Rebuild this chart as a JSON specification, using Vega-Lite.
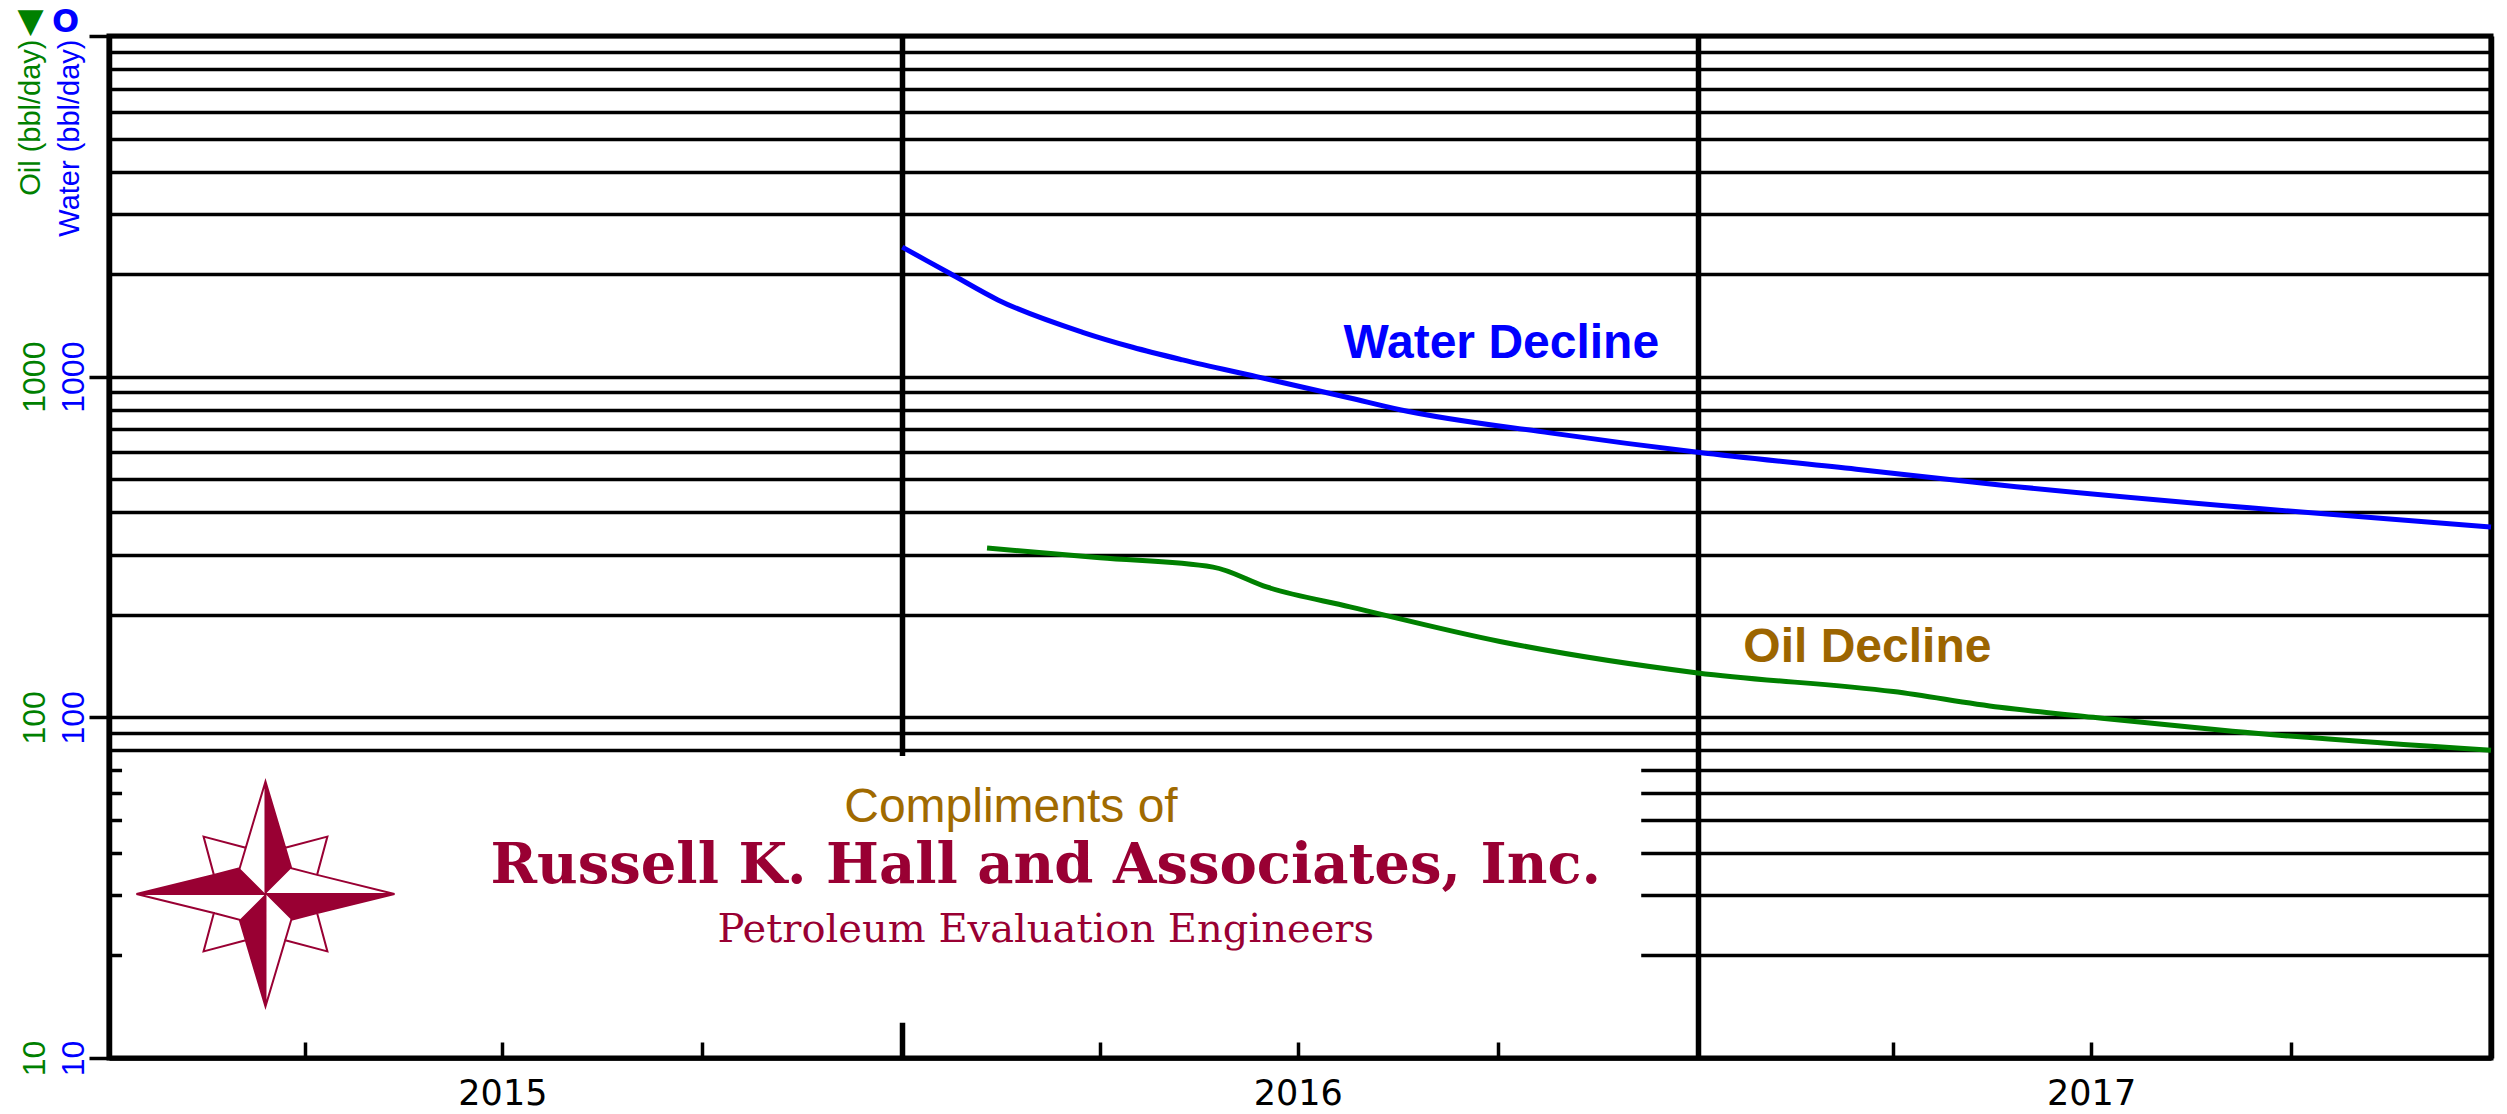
{
  "$schema": "https://vega.github.io/schema/vega-lite/v6.json",
  "width": 2382,
  "height": 1022,
  "autosize": {"type": "none"},
  "padding": {"left": 109, "top": 36, "right": 16, "bottom": 56},
  "background": "white",
  "config": {
    "view": {"stroke": "black", "strokeWidth": 5},
    "font": "Liberation Sans"
  },
  "datasets": {
    "water": [
      {"date": "2016-01-01", "rate": 2400},
      {"date": "2016-01-23", "rate": 2008},
      {"date": "2016-02-14", "rate": 1680},
      {"date": "2016-03-24", "rate": 1350},
      {"date": "2016-04-16", "rate": 1220},
      {"date": "2016-05-09", "rate": 1120},
      {"date": "2016-06-12", "rate": 1000},
      {"date": "2016-07-25", "rate": 866},
      {"date": "2016-08-17", "rate": 800},
      {"date": "2016-10-25", "rate": 684},
      {"date": "2017-01-01", "rate": 600},
      {"date": "2017-03-15", "rate": 535},
      {"date": "2017-05-20", "rate": 481},
      {"date": "2017-09-12", "rate": 412},
      {"date": "2018-01-01", "rate": 362}
    ],
    "oil": [
      {"date": "2016-02-09", "rate": 314},
      {"date": "2016-04-01", "rate": 294},
      {"date": "2016-05-23", "rate": 276},
      {"date": "2016-06-17", "rate": 241},
      {"date": "2016-07-25", "rate": 211},
      {"date": "2016-10-02", "rate": 167},
      {"date": "2017-01-01", "rate": 135},
      {"date": "2017-04-01", "rate": 119},
      {"date": "2017-05-20", "rate": 107},
      {"date": "2017-07-02", "rate": 100},
      {"date": "2017-09-04", "rate": 91},
      {"date": "2018-01-01", "rate": 80}
    ],
    "cover": [{"from": "2015-01-07", "to": "2016-12-06", "low": 12.7, "high": 77}],
    "logo": [{"item": "compass", "date": "2015-03-14", "value": 30.3}],
    "compliments": [{"text": "Compliments of", "date": "2016-02-20", "value": 49.3}],
    "company": [{"text": "Russell K. Hall and Associates, Inc.", "date": "2016-03-07", "value": 32.6}],
    "tagline": [{"text": "Petroleum Evaluation Engineers", "date": "2016-03-07", "value": 21.9}],
    "waterLabel": [{"text": "Water Decline", "date": "2016-07-22", "value": 1134}],
    "oilLabel": [{"text": "Oil Decline", "date": "2017-01-22", "value": 145}]
  },
  "resolve": {"axis": {"x": "independent", "y": "independent"}},
  "layer": [
    {
      "data": {"name": "water"},
      "mark": {"type": "line", "color": "#0000ff", "strokeWidth": 5, "interpolate": "monotone"},
      "encoding": {
        "x": {
          "field": "date", "type": "temporal",
          "scale": {"type": "utc", "nice": false, "domain": [{"year": 2015, "month": 1, "date": 1, "utc": true}, {"year": 2018, "month": 1, "date": 1, "utc": true}]},
          "axis": {
            "orient": "bottom",
            "values": [
              {"year": 2015, "month": 1, "date": 1, "utc": true},
              {"year": 2015, "month": 4, "date": 1, "utc": true},
              {"year": 2015, "month": 7, "date": 1, "utc": true},
              {"year": 2015, "month": 10, "date": 1, "utc": true},
              {"year": 2016, "month": 1, "date": 1, "utc": true},
              {"year": 2016, "month": 4, "date": 1, "utc": true},
              {"year": 2016, "month": 7, "date": 1, "utc": true},
              {"year": 2016, "month": 10, "date": 1, "utc": true},
              {"year": 2017, "month": 1, "date": 1, "utc": true},
              {"year": 2017, "month": 4, "date": 1, "utc": true},
              {"year": 2017, "month": 7, "date": 1, "utc": true},
              {"year": 2017, "month": 10, "date": 1, "utc": true},
              {"year": 2018, "month": 1, "date": 1, "utc": true}
            ],
            "labelExpr": "utcmonth(datum.value) == 6 ? utcFormat(datum.value, '%Y') : ''",
            "labelFont": "DejaVu Sans", "labelFontSize": 35, "labelColor": "black",
            "labelBaseline": "alphabetic",
            "labelPadding": 62, "labelFlush": false, "labelOverlap": false, "labelBound": false,
            "tickSize": -16, "tickWidth": 3.5, "tickColor": "black",
            "domainColor": "black", "domainWidth": 4.5,
            "grid": true, "gridColor": "black", "gridWidth": 5.5,
            "gridOpacity": {"condition": {"test": "utcmonth(datum.value) == 0", "value": 1}, "value": 0},
            "title": "▼", "titleFont": "DejaVu Sans", "titleFontSize": 34, "titleFontWeight": "normal",
            "titleColor": "#008000", "titleX": -79, "titleY": -1037, "titleAlign": "center",
            "titleBaseline": "middle", "titleAngle": 0
          }
        },
        "y": {
          "field": "rate", "type": "quantitative",
          "scale": {"type": "log", "domain": [10, 10000], "nice": false},
          "axis": {
            "orient": "left",
            "values": [10, 20, 30, 40, 50, 60, 70, 80, 90, 100, 200, 300, 400, 500, 600, 700, 800, 900, 1000, 2000, 3000, 4000, 5000, 6000, 7000, 8000, 9000, 10000],
            "format": "d",
            "labelExpr": "datum.value == 10 || datum.value == 100 || datum.value == 1000 ? datum.label : ''",
            "labelAngle": 270, "labelAlign": "center", "labelBaseline": "alphabetic",
            "labelFontSize": 32, "labelColor": "#0000ff", "labelPadding": 6,
            "labelOverlap": false, "labelBound": false, "labelFlush": false,
            "tickSize": 20, "tickWidth": 3.5, "tickColor": "black",
            "tickOpacity": {"condition": {"test": "datum.value == 10 || datum.value == 100 || datum.value == 1000 || datum.value == 10000", "value": 1}, "value": 0},
            "domainColor": "black", "domainWidth": 5,
            "grid": true, "gridColor": "black", "gridWidth": 3.5,
            "title": "Water (bbl/day)", "titleColor": "#0000ff", "titleFontSize": 29, "titleFontWeight": "normal",
            "titleAngle": 270, "titleAlign": "right", "titleBaseline": "alphabetic", "titleX": -31, "titleY": 3
          }
        }
      }
    },
    {
      "data": {"name": "oil"},
      "mark": {"type": "line", "color": "#008000", "strokeWidth": 5, "interpolate": "monotone"},
      "encoding": {
        "x": {
          "field": "date", "type": "temporal",
          "scale": {"type": "utc", "nice": false, "domain": [{"year": 2015, "month": 1, "date": 1, "utc": true}, {"year": 2018, "month": 1, "date": 1, "utc": true}]},
          "axis": {
            "orient": "bottom", "domain": false, "ticks": false, "labels": false, "grid": false,
            "title": "O", "titleFont": "DejaVu Sans", "titleFontSize": 32, "titleFontWeight": "bold",
            "titleColor": "#0000ff", "titleX": -44, "titleY": -1037, "titleAlign": "center",
            "titleBaseline": "middle", "titleAngle": 0
          }
        },
        "y": {
          "field": "rate", "type": "quantitative",
          "scale": {"type": "log", "domain": [10, 10000], "nice": false},
          "axis": {
            "orient": "left",
            "values": [10, 100, 1000],
            "format": "d",
            "domain": false, "ticks": false, "tickSize": 0, "grid": false,
            "labelAngle": 270, "labelAlign": "center", "labelBaseline": "alphabetic",
            "labelFontSize": 32, "labelColor": "#008000", "labelPadding": 65,
            "labelOverlap": false, "labelBound": false, "labelFlush": false,
            "title": "Oil (bbl/day)", "titleColor": "#008000", "titleFontSize": 29, "titleFontWeight": "normal",
            "titleAngle": 270, "titleAlign": "right", "titleBaseline": "alphabetic", "titleX": -70, "titleY": 3
          }
        }
      }
    },
    {
      "data": {"name": "cover"},
      "mark": {"type": "rect", "color": "white", "opacity": 1},
      "encoding": {
        "x": {"field": "from", "type": "temporal", "scale": {"type": "utc", "nice": false, "domain": [{"year": 2015, "month": 1, "date": 1, "utc": true}, {"year": 2018, "month": 1, "date": 1, "utc": true}]}, "axis": null},
        "x2": {"field": "to"},
        "y": {"field": "high", "type": "quantitative", "scale": {"type": "log", "domain": [10, 10000], "nice": false}, "axis": null},
        "y2": {"field": "low"}
      }
    },
    {
      "data": {"name": "logo"},
      "mark": {
        "type": "point",
        "shape": "M0,-0.872L0.153,-0.358L0.48,-0.445L0.4,-0.148L1,0L0.4,0.148L0.48,0.445L0.153,0.358L0,0.872L-0.153,0.358L-0.48,0.445L-0.4,0.148L-1,0L-0.4,-0.148L-0.48,-0.445L-0.153,-0.358ZM0.153,-0.358L0.2,-0.2L0.4,-0.148M0.4,0.148L0.2,0.2L0.153,0.358M-0.153,0.358L-0.2,0.2L-0.4,0.148M-0.4,-0.148L-0.2,-0.2L-0.153,-0.358M0,-0.872L0,0.872M-1,0L1,0",
        "size": 66564, "filled": true, "fill": "white", "stroke": "#990033", "strokeWidth": 2, "opacity": 1
      },
      "encoding": {
        "x": {"field": "date", "type": "temporal", "scale": {"type": "utc", "nice": false, "domain": [{"year": 2015, "month": 1, "date": 1, "utc": true}, {"year": 2018, "month": 1, "date": 1, "utc": true}]}, "axis": null},
        "y": {"field": "value", "type": "quantitative", "scale": {"type": "log", "domain": [10, 10000], "nice": false}, "axis": null}
      }
    },
    {
      "data": {"name": "logo"},
      "mark": {
        "type": "point",
        "shape": "M0,-0.872L0.2,-0.2L0,0ZM1,0L0.2,0.2L0,0ZM0,0.872L-0.2,0.2L0,0ZM-1,0L-0.2,-0.2L0,0Z",
        "size": 66564, "filled": true, "fill": "#990033", "strokeWidth": 0, "opacity": 1
      },
      "encoding": {
        "x": {"field": "date", "type": "temporal", "scale": {"type": "utc", "nice": false, "domain": [{"year": 2015, "month": 1, "date": 1, "utc": true}, {"year": 2018, "month": 1, "date": 1, "utc": true}]}, "axis": null},
        "y": {"field": "value", "type": "quantitative", "scale": {"type": "log", "domain": [10, 10000], "nice": false}, "axis": null}
      }
    },
    {
      "data": {"name": "compliments"},
      "mark": {"type": "text", "font": "Liberation Sans", "fontSize": 48, "color": "#a06a00", "align": "center", "baseline": "alphabetic"},
      "encoding": {
        "x": {"field": "date", "type": "temporal", "scale": {"type": "utc", "nice": false, "domain": [{"year": 2015, "month": 1, "date": 1, "utc": true}, {"year": 2018, "month": 1, "date": 1, "utc": true}]}, "axis": null},
        "y": {"field": "value", "type": "quantitative", "scale": {"type": "log", "domain": [10, 10000], "nice": false}, "axis": null},
        "text": {"field": "text"}
      }
    },
    {
      "data": {"name": "company"},
      "mark": {"type": "text", "font": "DejaVu Serif", "fontWeight": "bold", "fontSize": 56, "color": "#990033", "align": "center", "baseline": "alphabetic"},
      "encoding": {
        "x": {"field": "date", "type": "temporal", "scale": {"type": "utc", "nice": false, "domain": [{"year": 2015, "month": 1, "date": 1, "utc": true}, {"year": 2018, "month": 1, "date": 1, "utc": true}]}, "axis": null},
        "y": {"field": "value", "type": "quantitative", "scale": {"type": "log", "domain": [10, 10000], "nice": false}, "axis": null},
        "text": {"field": "text"}
      }
    },
    {
      "data": {"name": "tagline"},
      "mark": {"type": "text", "font": "DejaVu Serif", "fontSize": 40, "color": "#990033", "align": "center", "baseline": "alphabetic"},
      "encoding": {
        "x": {"field": "date", "type": "temporal", "scale": {"type": "utc", "nice": false, "domain": [{"year": 2015, "month": 1, "date": 1, "utc": true}, {"year": 2018, "month": 1, "date": 1, "utc": true}]}, "axis": null},
        "y": {"field": "value", "type": "quantitative", "scale": {"type": "log", "domain": [10, 10000], "nice": false}, "axis": null},
        "text": {"field": "text"}
      }
    },
    {
      "data": {"name": "waterLabel"},
      "mark": {"type": "text", "font": "Liberation Sans", "fontWeight": "bold", "fontSize": 48, "color": "#0000ff", "align": "left", "baseline": "alphabetic"},
      "encoding": {
        "x": {"field": "date", "type": "temporal", "scale": {"type": "utc", "nice": false, "domain": [{"year": 2015, "month": 1, "date": 1, "utc": true}, {"year": 2018, "month": 1, "date": 1, "utc": true}]}, "axis": null},
        "y": {"field": "value", "type": "quantitative", "scale": {"type": "log", "domain": [10, 10000], "nice": false}, "axis": null},
        "text": {"field": "text"}
      }
    },
    {
      "data": {"name": "oilLabel"},
      "mark": {"type": "text", "font": "Liberation Sans", "fontWeight": "bold", "fontSize": 48, "color": "#9c6500", "align": "left", "baseline": "alphabetic"},
      "encoding": {
        "x": {"field": "date", "type": "temporal", "scale": {"type": "utc", "nice": false, "domain": [{"year": 2015, "month": 1, "date": 1, "utc": true}, {"year": 2018, "month": 1, "date": 1, "utc": true}]}, "axis": null},
        "y": {"field": "value", "type": "quantitative", "scale": {"type": "log", "domain": [10, 10000], "nice": false}, "axis": null},
        "text": {"field": "text"}
      }
    }
  ]
}
